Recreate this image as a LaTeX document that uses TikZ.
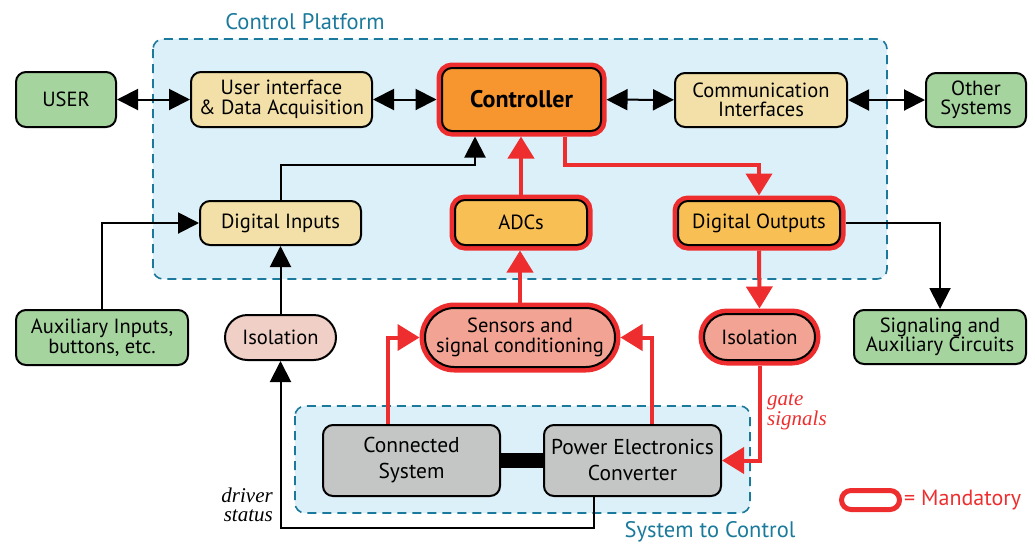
\documentclass[tikz,border=0pt]{standalone}
\usepackage{fontspec}
\setmainfont{PT Sans}
\newfontfamily\notefont{Liberation Serif}
\usetikzlibrary{arrows.meta,shapes.misc}

\definecolor{greenbox}{HTML}{A6D49F}
\definecolor{sandbox}{HTML}{F2E0A8}
\definecolor{ctrlorange}{HTML}{F7952F}
\definecolor{amber}{HTML}{F8BF55}
\definecolor{salmon}{HTML}{F2A393}
\definecolor{blush}{HTML}{F0D0C6}
\definecolor{steel}{HTML}{C4C5C5}
\definecolor{paleblue}{HTML}{DCF0F9}
\definecolor{frameteal}{HTML}{1B7A9B}
\definecolor{mandred}{HTML}{EE2E2E}

\tikzset{
  lbl/.style={font=\fontsize{20.5}{19.5}\selectfont},
  box/.style={lbl, draw=black, line width=2pt, rounded corners=10pt,
    align=center, inner sep=0pt},
  pill/.style={lbl, draw=black, line width=2pt, rounded rectangle,
    align=center, inner sep=0pt},
  mand/.style={preaction={draw=mandred, line width=11pt}, outer sep=5.5pt},
  group/.style={fill=paleblue, draw=frameteal, line width=1.6pt,
    dash pattern=on 9pt off 6pt, rounded corners=10pt},
  grouplbl/.style={font=\fontsize{22.5}{24}\selectfont, text=frameteal},
  note/.style={font=\notefont\itshape\fontsize{21}{19.5}\selectfont, inner sep=0pt},
  bhead/.tip={Triangle[length=21pt,width=21pt]},
  rhead/.tip={Triangle[length=22pt,width=26pt]},
  arr/.style={line width=2pt, -bhead},
  darr/.style={line width=2pt, bhead-bhead},
  rarr/.style={draw=mandred, line width=4pt, -rhead},
}

\begin{document}
\begin{tikzpicture}[x=1pt,y=-1pt]
\useasboundingbox (0,0) rectangle (1035,547);

% group frames
\draw[group] (153,39) rectangle (887,279);
\draw[group] (295,406) rectangle (750,513);
\node[grouplbl] (cpl) at (305,22) {Control Platform};
\node[grouplbl] (stc) at (710,532) {System to Control};

% top row
\node[box, fill=greenbox, minimum width=100pt, minimum height=55pt] (user) at (66,99.5) {USER};
\node[box, fill=sandbox, minimum width=181pt, minimum height=55pt] (uida) at (281.5,99.5) {User interface\\\& Data Acquisition};
\node[box, mand, fill=ctrlorange, minimum width=159pt, minimum height=63pt, font=\fontsize{24}{26}\selectfont\bfseries] (ctrl) at (521.5,99.5) {Controller};
\node[box, fill=sandbox, minimum width=172pt, minimum height=54pt] (comm) at (761,100) {Communication\\Interfaces};
\node[box, fill=greenbox, minimum width=100pt, minimum height=54pt] (other) at (976,100) {Other\\Systems};

% middle row
\node[box, fill=sandbox, minimum width=161pt, minimum height=44pt] (din) at (280.5,223) {Digital Inputs};
\node[box, mand, fill=amber, minimum width=132pt, minimum height=45pt] (adc) at (521,222.5) {ADCs};
\node[box, mand, fill=amber, minimum width=162pt, minimum height=44pt] (dout) at (759,223) {Digital Outputs};

% lower row
\node[box, fill=greenbox, minimum width=172pt, minimum height=55pt] (aux) at (102,337.5) {Auxiliary Inputs,\\buttons, etc.};
\node[pill, fill=blush, minimum width=111pt, minimum height=45pt] (isoL) at (280.5,337.5) {Isolation};
\node[pill, mand, fill=salmon, minimum width=190pt, minimum height=59pt] (sens) at (520,337.5) {Sensors and\\signal conditioning};
\node[pill, mand, fill=salmon, minimum width=111pt, minimum height=46pt] (isoR) at (759.5,337) {Isolation};
\node[box, fill=greenbox, minimum width=172pt, minimum height=54pt] (sig) at (940,337) {Signaling and\\Auxiliary Circuits};

% plant
\node[box, fill=steel, minimum width=177pt, minimum height=71pt, font=\fontsize{21.5}{26}\selectfont] (conn) at (411.5,460.5) {Connected\\System};
\node[box, fill=steel, minimum width=177pt, minimum height=71pt, font=\fontsize{21.5}{26}\selectfont] (pec) at (632.5,460.5) {Power Electronics\\Converter};

% bend points
\coordinate (kDin) at (475,165);
\coordinate (kOut) at (565,165);
\coordinate (kDrv) at (594,528);
\coordinate (kCs) at (388,424);
\coordinate (kPs) at (652,424);

% black links
\draw[darr] (user) -- (uida);
\draw[darr] (uida) -- (ctrl);
\draw[darr] (ctrl) -- (comm);
\draw[darr] (comm) -- (other);
\draw[arr] (din.north) |- (kDin) -- (kDin |- ctrl.south);
\draw[arr] (aux.north) |- (din.west);
\draw[arr] (isoL.north) -- (din.south);
\draw[arr] (dout.east) -| (sig.north);
\draw[arr] (pec.south -| kDrv) -- (kDrv) -| (isoL.south);
\draw[line width=15pt] (conn.east) -- (pec.west);

% mandatory signal path
\draw[rarr] (adc.north) -- (ctrl.south -| adc.north);
\draw[rarr] (sens.north) -- (adc.south -| sens.north);
\draw[rarr] (kOut |- ctrl.south) -- (kOut) -| (dout.north);
\draw[rarr] (dout.south) -- (isoR.north);
\draw[rarr] (isoR.south) |- (pec.east);
\draw[rarr] (conn.north -| kCs) |- (sens.west);
\draw[rarr] (pec.north -| kPs) |- (sens.east);

% signal notes
\node[note, align=right, anchor=east] (drv) at (273,505) {driver\\status};
\node[note, align=left, anchor=west, text=mandred] (gate) at (767,412) {gate\\signals};

% key
\node[draw=mandred, line width=5pt, rounded rectangle, minimum width=58pt, minimum height=19pt, inner sep=0pt] (key) at (870.5,500) {};
\node[lbl, anchor=west, text=mandred, inner sep=2pt, font=\fontsize{22}{24}\selectfont] (keytxt) at (key.east) {= Mandatory};
\end{tikzpicture}
\end{document}
